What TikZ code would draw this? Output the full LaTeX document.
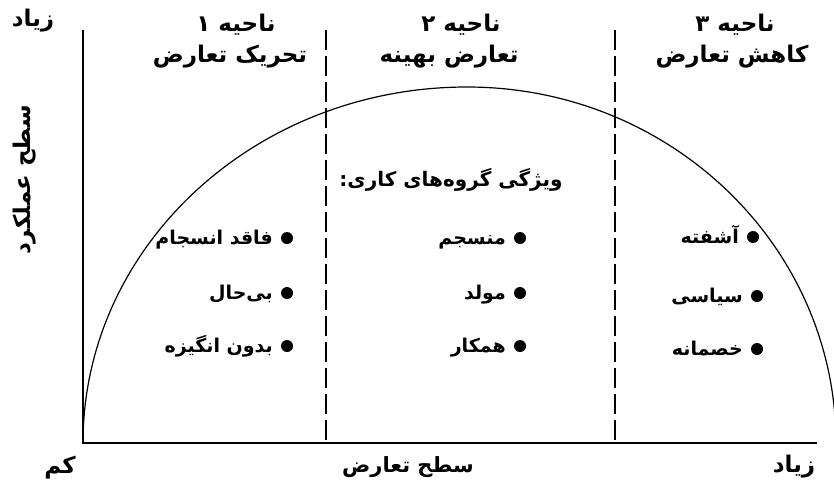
\documentclass[tikz,border=0pt]{standalone}
\usepackage{fontspec}
\newfontfamily\fa[Script=Arabic]{DejaVu Sans}
\TeXXeTstate=1
\begin{document}
\begin{tikzpicture}[x=1pt,y=-1pt,
  fatxt/.style={font=\fa\bfseries\fontsize{23}{26}\selectfont, inner sep=0pt},
  axtxt/.style={font=\fa\bfseries\fontsize{21}{24}\selectfont, inner sep=0pt},
  headtxt/.style={font=\fa\bfseries\fontsize{20}{24}\selectfont, inner sep=0pt},
  itemtxt/.style={font=\fa\bfseries\fontsize{19}{22}\selectfont, inner sep=0pt, anchor=base east},
  dotnode/.style={circle, fill=black, minimum size=12pt, inner sep=0pt},
  axisline/.style={line width=1.3pt},
  zoneline/.style={line width=1.1pt, dash pattern=on 20pt off 6pt},
  curveline/.style={line width=1.2pt}]
\useasboundingbox (0,0) rectangle (834,490);
% axes
\coordinate (ytop) at (83,30);
\coordinate (o) at (83,443);
\coordinate (xend) at (817,443);
\draw[axisline] (ytop) -- (o) -- (xend);
% zone separators
\coordinate (d1t) at (326,30);
\coordinate (d1b) at (326,443);
\coordinate (d2t) at (615,30);
\coordinate (d2b) at (615,443);
\draw[zoneline] (d1t) -- (d1b);
\draw[zoneline] (d2t) -- (d2b);
% curve
\coordinate (cstart) at (83,443);
\draw[curveline] (cstart) arc[start angle=180, end angle=270, x radius=384, y radius=356]
  arc[start angle=270, end angle=360, x radius=369, y radius=356];
% axis labels
\node[fatxt] (yhigh) at (33,21) {\beginR زیاد\endR};
\node[fatxt, rotate=90] (ylab) at (25,180) {\beginR سطح عملکرد\endR};
\node[fatxt] (xlow) at (60,468) {\beginR کم\endR};
\node[axtxt] (xlab) at (408,467) {\beginR سطح تعارض\endR};
\node[fatxt] (xhigh) at (794,467) {\beginR زیاد\endR};
% zone titles
\node[fatxt] (z1a) at (236,25) {\beginR ناحیه ۱\endR};
\node[fatxt] (z1b) at (230,57) {\beginR تحریک تعارض\endR};
\node[fatxt] (z2a) at (461,25) {\beginR ناحیه ۲\endR};
\node[fatxt] (z2b) at (449,57) {\beginR تعارض بهینه\endR};
\node[fatxt] (z3a) at (735,25) {\beginR ناحیه ۳\endR};
\node[fatxt] (z3b) at (732,57) {\beginR کاهش تعارض\endR};
% heading
\node[headtxt] (head) at (451,180) {\beginR ویژگی گروه‌های کاری:\endR};
% zone 1 items
\node[dotnode] (b11) at (287,238) {};
\node[dotnode] (b12) at (287,293) {};
\node[dotnode] (b13) at (287,346) {};
\node[itemtxt] (t11) at (273,244) {\beginR فاقد انسجام\endR};
\node[itemtxt] (t12) at (273,299) {\beginR بی‌حال\endR};
\node[itemtxt] (t13) at (273,352) {\beginR بدون انگیزه\endR};
% zone 2 items
\node[dotnode] (b21) at (520,238) {};
\node[dotnode] (b22) at (520,293) {};
\node[dotnode] (b23) at (520,346) {};
\node[itemtxt] (t21) at (506,244) {\beginR منسجم\endR};
\node[itemtxt] (t22) at (506,299) {\beginR مولد\endR};
\node[itemtxt] (t23) at (506,352) {\beginR همکار\endR};
% zone 3 items
\node[dotnode] (b31) at (753,237) {};
\node[dotnode] (b32) at (757,296) {};
\node[dotnode] (b33) at (757,349) {};
\node[itemtxt] (t31) at (739,243) {\beginR آشفته\endR};
\node[itemtxt] (t32) at (743,302) {\beginR سیاسی\endR};
\node[itemtxt] (t33) at (743,355) {\beginR خصمانه\endR};
\end{tikzpicture}
\end{document}
